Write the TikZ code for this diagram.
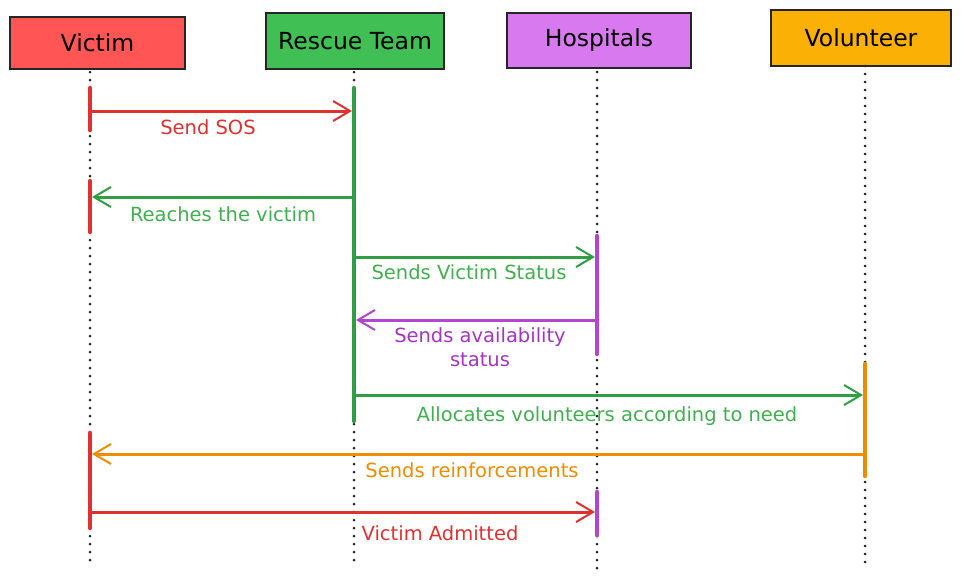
\documentclass[tikz,border=0pt]{standalone}
\usepackage{fontspec}
\setmainfont{DejaVu Sans}
\usetikzlibrary{arrows.meta}
\definecolor{cVic}{HTML}{FF5555}
\definecolor{cRes}{HTML}{40BF55}
\definecolor{cHos}{HTML}{D879F0}
\definecolor{cVol}{HTML}{FAB005}
\definecolor{lRed}{HTML}{E03131}
\definecolor{lGreen}{HTML}{2F9E44}
\definecolor{lPurple}{HTML}{B445D0}
\definecolor{lOrange}{HTML}{F08C00}
\definecolor{tGreen}{HTML}{40B04F}
\definecolor{tPurple}{HTML}{A534C4}
\begin{document}
\begin{tikzpicture}[x=1pt,y=-1pt,
  actor/.style={draw=black!85,line width=2pt,inner sep=0pt,font=\fontsize{23.5}{26}\selectfont},
  lifeline/.style={black!85,line width=3pt,line cap=round,dash pattern=on 0pt off 8pt},
  actbar/.style={line width=4.5pt,line cap=round},
  msg/.style={line width=3pt,-{Straight Barb[length=17pt,width=20pt,line width=2pt]}},
  lbl/.style={font=\fontsize{19.5}{24}\selectfont,inner sep=0pt,align=center}]
\useasboundingbox (0,0) rectangle (966,582);
% actors
\node[actor,fill=cVic,minimum width=175pt,minimum height=52pt] (victim) at (97.5,43) {Victim};
\node[actor,fill=cRes,minimum width=178pt,minimum height=56pt] (rescue) at (355,41) {Rescue Team};
\node[actor,fill=cHos,minimum width=184pt,minimum height=55pt] (hosp) at (599,40.5) {Hospitals};
\node[actor,fill=cVol,minimum width=180pt,minimum height=56pt] (vol) at (861,38) {Volunteer};
% lifeline ends
\coordinate (vT) at (90,72); \coordinate (vB) at (90,566);
\coordinate (rT) at (354,72); \coordinate (rB) at (354,566);
\coordinate (hT) at (597,72); \coordinate (hB) at (597,572);
\coordinate (oT) at (865,66); \coordinate (oB) at (865,567);
\draw[lifeline] (vT) -- (vB);
\draw[lifeline] (rT) -- (rB);
\draw[lifeline] (hT) -- (hB);
\draw[lifeline] (oT) -- (oB);
% activation bars
\draw[actbar,lRed] (90,88) -- (90,130);
\draw[actbar,lRed] (90,181) -- (90,232);
\draw[actbar,lRed] (90,433) -- (90,528);
\draw[actbar,lGreen] (354,88) -- (354,421);
\draw[actbar,lPurple] (597,236) -- (597,354);
\draw[actbar,lPurple] (597,492) -- (597,535);
\draw[actbar,lOrange] (865,364) -- (865,476);
% message endpoints
\coordinate (m1a) at (90,111); \coordinate (m1b) at (352,111);
\coordinate (m2a) at (354,197); \coordinate (m2b) at (92,197);
\coordinate (m3a) at (354,257); \coordinate (m3b) at (595,257);
\coordinate (m4a) at (597,320); \coordinate (m4b) at (356,320);
\coordinate (m5a) at (354,395); \coordinate (m5b) at (863,395);
\coordinate (m6a) at (865,454); \coordinate (m6b) at (92,454);
\coordinate (m7a) at (90,512); \coordinate (m7b) at (595,512);
\draw[msg,lRed] (m1a) -- (m1b);
\draw[msg,lGreen] (m2a) -- (m2b);
\draw[msg,lGreen] (m3a) -- (m3b);
\draw[msg,lPurple] (m4a) -- (m4b);
\draw[msg,lGreen] (m5a) -- (m5b);
\draw[msg,lOrange] (m6a) -- (m6b);
\draw[msg,lRed] (m7a) -- (m7b);
% labels
\node[lbl,text=lRed] (l1) at (208,127) {Send SOS};
\node[lbl,text=tGreen] (l2) at (223,214) {Reaches the victim};
\node[lbl,text=tGreen] (l3) at (469,272) {Sends Victim Status};
\node[lbl,text=tPurple] (l4) at (480,347) {Sends availability\\status};
\node[lbl,text=tGreen] (l5) at (607,416) {Allocates volunteers according to need};
\node[lbl,text=lOrange] (l6) at (472,470) {Sends reinforcements};
\node[lbl,text=lRed] (l7) at (440,533) {Victim Admitted};
\end{tikzpicture}
\end{document}
